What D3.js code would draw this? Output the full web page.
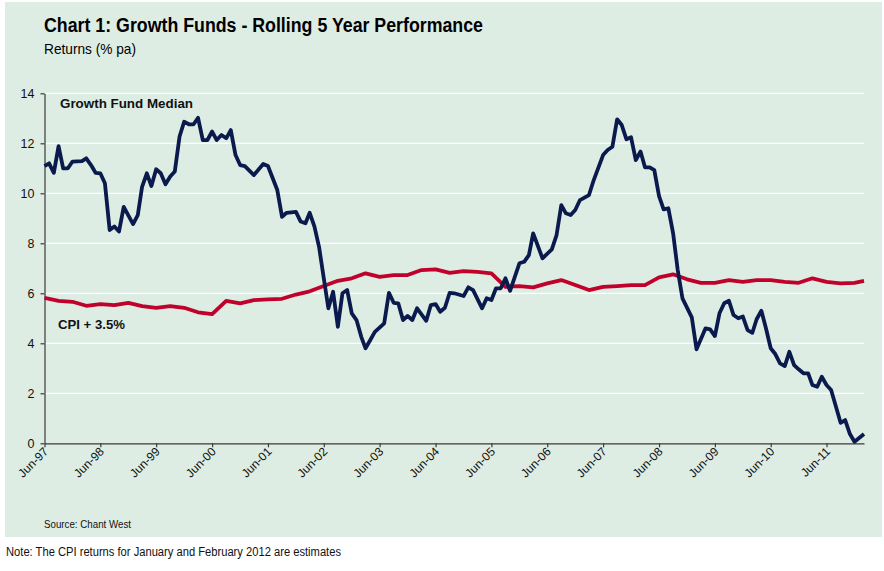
<!DOCTYPE html>
<html>
<head>
<meta charset="utf-8">
<script src="https://cdn.jsdelivr.net/npm/d3@7"></script>
<style>
  body { margin: 0; background: #fff; }
  svg { display: block; font-family: "Liberation Sans", Arial, sans-serif; }
</style>
</head>
<body>
<svg id="chart" width="884" height="571"></svg>
<script>
//========================== Data ================================

// rolling 5 year return of the growth fund median, % pa (month, value)
const growthFund = [
  ["1997-06", 11.09], ["1997-07", 11.2], ["1997-08", 10.82], ["1997-09", 11.89], ["1997-10", 11.0],
  ["1997-11", 11.0], ["1997-12", 11.27], ["1998-02", 11.29], ["1998-03", 11.4], ["1998-04", 11.13],
  ["1998-05", 10.82], ["1998-06", 10.8], ["1998-07", 10.4], ["1998-08", 8.53], ["1998-09", 8.67],
  ["1998-10", 8.47], ["1998-11", 9.46], ["1999-01", 8.77], ["1999-02", 9.13], ["1999-03", 10.26],
  ["1999-04", 10.8], ["1999-05", 10.29], ["1999-06", 10.96], ["1999-07", 10.8], ["1999-08", 10.36],
  ["1999-09", 10.67], ["1999-10", 10.87], ["1999-11", 12.27], ["1999-12", 12.86], ["2000-01", 12.76],
  ["2000-02", 12.76], ["2000-03", 13.02], ["2000-04", 12.13], ["2000-05", 12.13], ["2000-06", 12.47],
  ["2000-07", 12.13], ["2000-08", 12.33], ["2000-09", 12.2], ["2000-10", 12.53], ["2000-11", 11.53],
  ["2000-12", 11.13], ["2001-01", 11.09], ["2001-03", 10.73], ["2001-05", 11.17], ["2001-06", 11.09],
  ["2001-08", 10.13], ["2001-09", 9.06], ["2001-10", 9.22], ["2001-12", 9.26], ["2002-01", 8.87],
  ["2002-02", 8.8], ["2002-03", 9.22], ["2002-04", 8.67], ["2002-05", 7.86], ["2002-06", 6.6],
  ["2002-07", 5.4], ["2002-08", 6.06], ["2002-09", 4.66], ["2002-10", 6.0], ["2002-11", 6.13],
  ["2002-12", 5.2], ["2003-01", 4.93], ["2003-02", 4.26], ["2003-03", 3.8], ["2003-04", 4.13],
  ["2003-05", 4.46], ["2003-07", 4.8], ["2003-08", 6.02], ["2003-09", 5.62], ["2003-10", 5.6],
  ["2003-11", 4.93], ["2003-12", 5.09], ["2004-01", 4.93], ["2004-02", 5.4], ["2004-04", 4.9],
  ["2004-05", 5.53], ["2004-06", 5.57], ["2004-07", 5.26], ["2004-08", 5.42], ["2004-09", 6.02],
  ["2004-10", 6.0], ["2004-12", 5.89], ["2005-01", 6.24], ["2005-02", 6.13], ["2005-04", 5.4],
  ["2005-05", 5.8], ["2005-06", 5.73], ["2005-07", 6.2], ["2005-08", 6.2], ["2005-09", 6.6],
  ["2005-10", 6.1], ["2005-11", 6.66], ["2005-12", 7.2], ["2006-01", 7.26], ["2006-02", 7.53],
  ["2006-03", 8.4], ["2006-05", 7.4], ["2006-07", 7.76], ["2006-08", 8.33], ["2006-09", 9.53],
  ["2006-10", 9.2], ["2006-11", 9.13], ["2006-12", 9.33], ["2007-01", 9.73], ["2007-03", 9.93],
  ["2007-04", 10.53], ["2007-06", 11.53], ["2007-07", 11.73], ["2007-08", 11.86], ["2007-09", 12.96],
  ["2007-10", 12.73], ["2007-11", 12.16], ["2007-12", 12.24], ["2008-01", 11.33], ["2008-02", 11.67],
  ["2008-03", 11.04], ["2008-04", 11.04], ["2008-05", 10.93], ["2008-06", 9.89], ["2008-07", 9.36],
  ["2008-08", 9.4], ["2008-09", 8.4], ["2008-10", 6.93], ["2008-11", 5.8], ["2009-01", 5.04],
  ["2009-02", 3.76], ["2009-04", 4.6], ["2009-05", 4.56], ["2009-06", 4.29], ["2009-07", 5.2],
  ["2009-08", 5.6], ["2009-09", 5.7], ["2009-10", 5.13], ["2009-11", 5.0], ["2009-12", 5.07],
  ["2010-01", 4.53], ["2010-02", 4.42], ["2010-03", 4.96], ["2010-04", 5.3], ["2010-05", 4.6],
  ["2010-06", 3.8], ["2010-07", 3.57], ["2010-08", 3.2], ["2010-09", 3.09], ["2010-10", 3.66],
  ["2010-11", 3.13], ["2010-12", 2.96], ["2011-01", 2.8], ["2011-02", 2.8], ["2011-03", 2.33],
  ["2011-04", 2.26], ["2011-05", 2.66], ["2011-06", 2.33], ["2011-07", 2.13], ["2011-09", 0.82],
  ["2011-10", 0.93], ["2011-11", 0.37], ["2011-12", 0.06], ["2012-02", 0.37]
]

// CPI + 3.5% objective, quarterly (last point is the Feb-12 estimate)
const cpiPlus = [
  ["1997-06", 5.82], ["1997-09", 5.7], ["1997-12", 5.66], ["1998-03", 5.5], ["1998-06", 5.57],
  ["1998-09", 5.53], ["1998-12", 5.62], ["1999-03", 5.49], ["1999-06", 5.42], ["1999-09", 5.49],
  ["1999-12", 5.42], ["2000-03", 5.24], ["2000-06", 5.17], ["2000-09", 5.7], ["2000-12", 5.6],
  ["2001-03", 5.73], ["2001-06", 5.76], ["2001-09", 5.78], ["2001-12", 5.95], ["2002-03", 6.08],
  ["2002-06", 6.29], ["2002-09", 6.5], ["2002-12", 6.6], ["2003-03", 6.8], ["2003-06", 6.66],
  ["2003-09", 6.73], ["2003-12", 6.73], ["2004-03", 6.93], ["2004-06", 6.96], ["2004-09", 6.82],
  ["2004-12", 6.89], ["2005-03", 6.86], ["2005-06", 6.8], ["2005-09", 6.26], ["2005-12", 6.29],
  ["2006-03", 6.24], ["2006-06", 6.4], ["2006-09", 6.53], ["2006-12", 6.33], ["2007-03", 6.13],
  ["2007-06", 6.26], ["2007-09", 6.29], ["2007-12", 6.33], ["2008-03", 6.33], ["2008-06", 6.64],
  ["2008-09", 6.76], ["2008-12", 6.56], ["2009-03", 6.42], ["2009-06", 6.42], ["2009-09", 6.53],
  ["2009-12", 6.46], ["2010-03", 6.53], ["2010-06", 6.53], ["2010-09", 6.46], ["2010-12", 6.42],
  ["2011-03", 6.6], ["2011-06", 6.46], ["2011-09", 6.4], ["2011-12", 6.42], ["2012-02", 6.5]
]

const xTickMonths = ["1997-06", "1998-06", "1999-06", "2000-06", "2001-06", "2002-06", "2003-06",
  "2004-06", "2005-06", "2006-06", "2007-06", "2008-06", "2009-06", "2010-06", "2011-06"]
const yTicks = [0, 2, 4, 6, 8, 10, 12, 14]

//========================== Chart ================================

let parseMonth = d3.timeParse("%Y-%m")
let svg = d3.select("#chart")

let x = d3.scaleTime()
  .domain([parseMonth("1997-06"), parseMonth("2012-02")])
  .range([44.5, 864])
let y = d3.scaleLinear().domain([0, 14]).range([443.3, 93.3])

// green panel
svg.append("rect")
  .attr("x", 5).attr("y", 2).attr("width", 877).attr("height", 535)
  .attr("fill", "#deede4")

// titles
svg.append("text")
  .attr("x", 44).attr("y", 32)
  .attr("font-size", 19.5).attr("font-weight", "bold").attr("fill", "#000")
  .attr("textLength", 439).attr("lengthAdjust", "spacingAndGlyphs")
  .text("Chart 1: Growth Funds - Rolling 5 Year Performance")
svg.append("text")
  .attr("x", 44).attr("y", 54)
  .attr("font-size", 15).attr("fill", "#000")
  .attr("textLength", 92).attr("lengthAdjust", "spacingAndGlyphs")
  .text("Returns (% pa)")

// white gridlines
svg.append("g")
  .selectAll("line")
  .data(yTicks.filter(d => d > 0))
  .join("line")
  .attr("x1", x.range()[0]).attr("x2", x.range()[1])
  .attr("y1", d => y(d)).attr("y2", d => y(d))
  .attr("stroke", "#fff").attr("stroke-width", 1.3)

// axes
let yAxis = svg.append("g")
  .attr("transform", `translate(${x.range()[0]},0)`)
  .call(d3.axisLeft(y).tickValues(yTicks).tickSize(4).tickPadding(6).tickSizeOuter(0))
yAxis.selectAll("text").attr("font-size", 12.5).attr("fill", "#111").attr("font-family", "Liberation Sans, Arial, sans-serif")

let xAxis = svg.append("g")
  .attr("transform", `translate(0,${y(0)})`)
  .call(d3.axisBottom(x)
    .tickValues(xTickMonths.map(parseMonth))
    .tickFormat(d3.timeFormat("%b-%y"))
    .tickSize(4).tickSizeOuter(0))
xAxis.selectAll("text")
  .attr("font-size", 12).attr("fill", "#111").attr("font-family", "Liberation Sans, Arial, sans-serif")
  .attr("text-anchor", "end")
  .attr("dy", null).attr("y", 0)
  .attr("transform", "translate(4,9) rotate(-45)")

svg.selectAll(".domain, .tick line").attr("stroke", "#3a3a3a").attr("stroke-width", 1.2)

// the two series
let line = d3.line()
  .x(d => x(parseMonth(d[0])))
  .y(d => y(d[1]))

svg.append("path")
  .datum(cpiPlus)
  .attr("d", line)
  .attr("fill", "none").attr("stroke", "#c0012c").attr("stroke-width", 3.8)
  .attr("stroke-linejoin", "round")

svg.append("path")
  .datum(growthFund)
  .attr("d", line)
  .attr("fill", "none").attr("stroke", "#0b1a4c").attr("stroke-width", 3.8)
  .attr("stroke-linejoin", "round")

// series labels
svg.append("text")
  .attr("x", 60).attr("y", 108)
  .attr("font-size", 12).attr("font-weight", "bold").attr("fill", "#111")
  .attr("textLength", 133).attr("lengthAdjust", "spacingAndGlyphs")
  .text("Growth Fund Median")
svg.append("text")
  .attr("x", 58).attr("y", 329)
  .attr("font-size", 12.5).attr("font-weight", "bold").attr("fill", "#111")
  .attr("textLength", 67).attr("lengthAdjust", "spacingAndGlyphs")
  .text("CPI + 3.5%")

// footnotes
svg.append("text")
  .attr("x", 44).attr("y", 528)
  .attr("font-size", 11).attr("fill", "#111")
  .attr("textLength", 87).attr("lengthAdjust", "spacingAndGlyphs")
  .text("Source: Chant West")
svg.append("text")
  .attr("x", 6).attr("y", 556)
  .attr("font-size", 12).attr("fill", "#111")
  .attr("textLength", 335).attr("lengthAdjust", "spacingAndGlyphs")
  .text("Note: The CPI returns for January and February 2012 are estimates")
</script>
</body>
</html>
